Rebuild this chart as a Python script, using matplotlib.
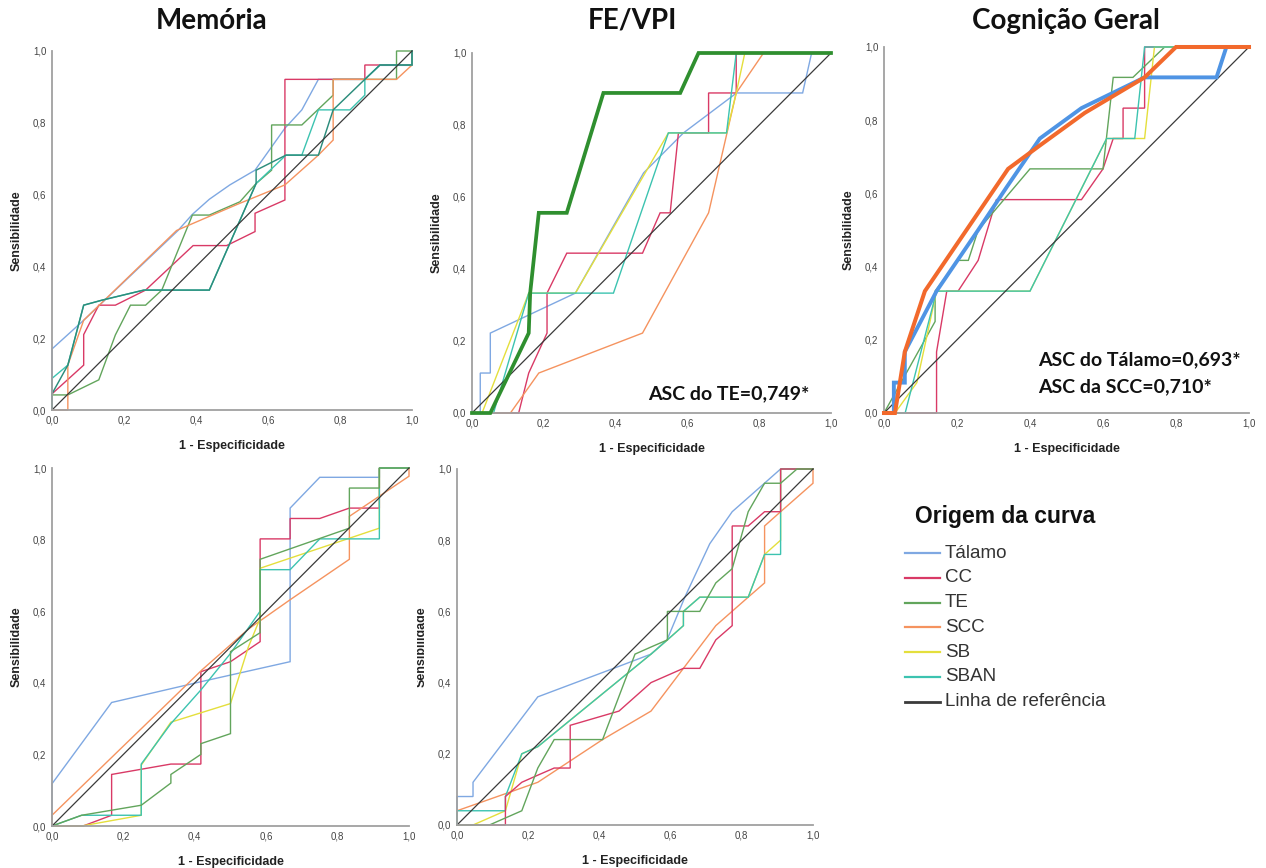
import matplotlib
matplotlib.use("Agg")
import matplotlib.pyplot as plt
from matplotlib.transforms import Bbox, TransformedBbox

W, H = 1266, 868

TICKS = [0.0, 0.2, 0.4, 0.6, 0.8, 1.0]
TICK_LABELS = ["0,0", "0,2", "0,4", "0,6", "0,8", "1,0"]

SERIES = ["Tálamo", "CC", "TE", "SCC", "SB", "SBAN"]
REF_LABEL = "Linha de referência"
REF_LINE = [(0, 0), (1, 1)]

# ── Memória ───────────────────────────────────────────────────────────────────
MEM_TALAMO = [(0, 0), (0, 0.17), (0.088, 0.25), (0.35, 0.50), (0.39, 0.545), (0.437, 0.587),
              (0.494, 0.627), (0.564, 0.668), (0.647, 0.785), (0.694, 0.836), (0.74, 0.921),
              (0.869, 0.921), (0.91, 0.96), (1, 0.96), (1, 1)]
MEM_CC = [(0, 0), (0, 0.045), (0.088, 0.125), (0.088, 0.21), (0.13, 0.292), (0.176, 0.292),
          (0.26, 0.334), (0.392, 0.458), (0.485, 0.458), (0.564, 0.497), (0.564, 0.548),
          (0.647, 0.585), (0.647, 0.921), (0.869, 0.921), (0.869, 0.961), (1, 0.961), (1, 1)]
MEM_TE = [(0, 0), (0, 0.042), (0.044, 0.042), (0.13, 0.084), (0.176, 0.209), (0.218, 0.292),
          (0.26, 0.292), (0.305, 0.334), (0.39, 0.543), (0.437, 0.543), (0.522, 0.58),
          (0.567, 0.631), (0.61, 0.668), (0.61, 0.794), (0.694, 0.794), (0.781, 0.877),
          (0.781, 0.921), (0.957, 0.921), (0.957, 1), (1, 1)]
MEM_SCC = [(0, 0), (0.044, 0), (0.044, 0.125), (0.088, 0.25), (0.346, 0.50), (0.45, 0.545),
           (0.52, 0.575), (0.647, 0.627), (0.74, 0.71), (0.781, 0.752), (0.781, 0.921),
           (0.957, 0.921), (1, 0.961), (1, 1)]
MEM_SB = [(0, 0), (0, 0.045), (0.044, 0.125), (0.088, 0.292), (0.139, 0.306), (0.255, 0.334),
          (0.437, 0.334), (0.567, 0.631), (0.567, 0.668), (0.65, 0.71), (0.74, 0.71),
          (0.781, 0.836), (0.869, 0.921), (0.911, 0.961), (1, 0.961), (1, 1)]
MEM_SBAN = [(0, 0), (0, 0.088), (0.044, 0.125), (0.088, 0.292), (0.139, 0.306), (0.255, 0.334),
            (0.437, 0.334), (0.567, 0.631), (0.65, 0.71), (0.694, 0.71), (0.74, 0.836),
            (0.828, 0.836), (0.869, 0.877), (0.869, 0.921), (0.911, 0.961), (1, 0.961), (1, 1)]

# ── FE/VPI ────────────────────────────────────────────────────────────────────
FE_TALAMO = [(0, 0), (0.023, 0), (0.023, 0.111), (0.051, 0.111), (0.051, 0.222), (0.288, 0.333),
             (0.478, 0.667), (0.589, 0.778), (0.737, 0.889), (0.921, 0.889), (0.946, 1), (1, 1)]
FE_CC = [(0, 0), (0.13, 0), (0.158, 0.111), (0.209, 0.222), (0.209, 0.333), (0.264, 0.444),
         (0.475, 0.444), (0.524, 0.556), (0.552, 0.556), (0.575, 0.778), (0.659, 0.778),
         (0.659, 0.889), (0.736, 0.889), (0.736, 1), (1, 1)]
FE_TE = [(0, 0), (0.051, 0), (0.158, 0.222), (0.162, 0.333), (0.186, 0.556), (0.264, 0.556),
         (0.366, 0.889), (0.58, 0.889), (0.631, 1), (1, 1)]
FE_SCC = [(0, 0), (0.107, 0), (0.186, 0.111), (0.475, 0.222), (0.659, 0.556), (0.736, 0.889),
          (0.812, 1), (1, 1)]
FE_SB = [(0, 0), (0.028, 0), (0.158, 0.333), (0.288, 0.333), (0.547, 0.778), (0.709, 0.778),
         (0.736, 0.889), (0.76, 1), (1, 1)]
FE_SBAN = [(0, 0), (0.06, 0), (0.158, 0.333), (0.394, 0.333), (0.547, 0.778), (0.709, 0.778),
           (0.736, 1), (1, 1)]

# ── Cognição Geral ────────────────────────────────────────────────────────────
COG_TALAMO = [(0, 0), (0.027, 0), (0.027, 0.083), (0.057, 0.083), (0.057, 0.167), (0.144, 0.333),
              (0.258, 0.5), (0.336, 0.617), (0.427, 0.75), (0.541, 0.833), (0.714, 0.917),
              (0.911, 0.917), (0.938, 1), (1, 1)]
COG_CC = [(0, 0), (0.144, 0), (0.144, 0.167), (0.172, 0.333), (0.203, 0.333), (0.258, 0.417),
          (0.308, 0.583), (0.541, 0.583), (0.6, 0.667), (0.628, 0.75), (0.655, 0.75),
          (0.655, 0.833), (0.714, 0.833), (0.714, 1), (1, 1)]
COG_TE = [(0, 0), (0.14, 0.25), (0.14, 0.333), (0.203, 0.417), (0.231, 0.417), (0.258, 0.5),
          (0.4, 0.667), (0.6, 0.667), (0.628, 0.917), (0.682, 0.917), (0.769, 1), (1, 1)]
COG_SCC = [(0, 0), (0.03, 0), (0.057, 0.167), (0.112, 0.333), (0.34, 0.667), (0.427, 0.731),
           (0.55, 0.82), (0.714, 0.917), (0.8, 1), (1, 1)]
COG_SB = [(0, 0), (0.03, 0), (0.09, 0.083), (0.144, 0.333), (0.4, 0.333), (0.61, 0.75),
          (0.714, 0.75), (0.741, 1), (1, 1)]
COG_SBAN = [(0, 0), (0.058, 0), (0.144, 0.333), (0.4, 0.333), (0.61, 0.75), (0.687, 0.75),
            (0.714, 1), (1, 1)]

# ── bottom left (untitled) ────────────────────────────────────────────────────
BL_TALAMO = [(0, 0), (0, 0.118), (0.167, 0.345), (0.417, 0.403), (0.667, 0.459), (0.667, 0.888),
             (0.75, 0.974), (0.917, 0.974), (0.917, 1), (1, 1)]
BL_CC = [(0, 0), (0.087, 0), (0.167, 0.03), (0.167, 0.144), (0.333, 0.173), (0.417, 0.173),
         (0.417, 0.431), (0.5, 0.459), (0.583, 0.515), (0.583, 0.802), (0.667, 0.802),
         (0.667, 0.859), (0.75, 0.859), (0.833, 0.888), (0.917, 0.888), (0.917, 1), (1, 1)]
BL_TE = [(0, 0), (0.083, 0.03), (0.25, 0.058), (0.333, 0.12), (0.333, 0.144), (0.417, 0.2),
         (0.417, 0.23), (0.5, 0.258), (0.5, 0.487), (0.583, 0.54), (0.583, 0.745),
         (0.833, 0.832), (0.833, 0.944), (0.917, 0.944), (0.917, 1), (1, 1)]
BL_SCC = [(0, 0), (0, 0.03), (0.42, 0.436), (0.55, 0.55), (0.667, 0.632), (0.833, 0.745),
          (0.833, 0.865), (1, 0.977), (1, 1)]
BL_SB = [(0, 0), (0.083, 0), (0.25, 0.03), (0.25, 0.17), (0.333, 0.29), (0.5, 0.342),
         (0.55, 0.5), (0.583, 0.58), (0.583, 0.72), (0.917, 0.832), (0.917, 1), (1, 1)]
BL_SBAN = [(0, 0), (0.083, 0.03), (0.25, 0.03), (0.25, 0.173), (0.333, 0.286), (0.417, 0.38),
           (0.5, 0.482), (0.583, 0.6), (0.583, 0.716), (0.667, 0.716), (0.75, 0.802),
           (0.917, 0.802), (0.917, 1), (1, 1)]

# ── bottom middle (untitled) ──────────────────────────────────────────────────
BM_TALAMO = [(0, 0), (0, 0.08), (0.045, 0.08), (0.045, 0.12), (0.227, 0.36), (0.44, 0.44),
             (0.545, 0.48), (0.59, 0.52), (0.64, 0.64), (0.71, 0.79), (0.773, 0.88),
             (0.909, 1), (1, 1)]
BM_CC = [(0, 0), (0.136, 0), (0.136, 0.08), (0.182, 0.12), (0.227, 0.14), (0.273, 0.16),
         (0.318, 0.16), (0.318, 0.28), (0.455, 0.32), (0.545, 0.4), (0.636, 0.44),
         (0.682, 0.44), (0.727, 0.52), (0.773, 0.56), (0.773, 0.84), (0.818, 0.84),
         (0.864, 0.88), (0.909, 0.88), (0.909, 1), (1, 1)]
BM_TE = [(0, 0), (0.091, 0), (0.182, 0.04), (0.227, 0.16), (0.273, 0.24), (0.409, 0.24),
         (0.5, 0.48), (0.545, 0.5), (0.591, 0.52), (0.591, 0.6), (0.682, 0.6), (0.727, 0.68),
         (0.773, 0.72), (0.818, 0.88), (0.864, 0.96), (0.909, 0.96), (0.955, 1), (1, 1)]
BM_SCC = [(0, 0), (0, 0.04), (0.227, 0.12), (0.318, 0.18), (0.409, 0.24), (0.545, 0.32),
          (0.636, 0.44), (0.727, 0.56), (0.818, 0.64), (0.864, 0.68), (0.864, 0.84),
          (0.909, 0.88), (1, 0.96), (1, 1)]
BM_SB = [(0, 0), (0.045, 0), (0.136, 0.04), (0.182, 0.2), (0.227, 0.22), (0.545, 0.48),
         (0.591, 0.52), (0.636, 0.56), (0.636, 0.6), (0.682, 0.64), (0.818, 0.64),
         (0.864, 0.76), (0.909, 0.8), (0.909, 1), (1, 1)]
BM_SBAN = [(0, 0), (0, 0.04), (0.136, 0.04), (0.136, 0.08), (0.182, 0.2), (0.227, 0.22),
           (0.545, 0.48), (0.591, 0.52), (0.636, 0.56), (0.636, 0.6), (0.682, 0.64),
           (0.818, 0.64), (0.864, 0.76), (0.909, 0.76), (0.909, 1), (1, 1)]

COLORS = {
    "Tálamo": "#7fa8e2",
    "CC": "#d93a66",
    "TE": "#62a55c",
    "SCC": "#f5935f",
    "SB": "#e4df3c",
    "SBAN": "#3cc3b0",
    REF_LABEL: "#3a3a3a",
}

SANS = "Liberation Sans"
HEAD = "Lato"


def px(x, y):
    """pixel (from top-left) -> figure fraction"""
    return x / W, 1 - y / H


def draw_panel(fig, box, curves, styles, title=None, title_x=None, notes=(), ylabel_clip=None):
    x0, y0, x1, y1 = box
    ax = fig.add_axes([x0 / W, 1 - y1 / H, (x1 - x0) / W, (y1 - y0) / H])
    ax.set_xlim(0, 1)
    ax.set_ylim(0, 1)
    for s in ("top", "right"):
        ax.spines[s].set_visible(False)
    for s in ("left", "bottom"):
        ax.spines[s].set_color("#a0a0a0")
        ax.spines[s].set_linewidth(1.3)
    ax.set_xticks(TICKS)
    ax.set_yticks(TICKS)
    ax.set_xticklabels(TICK_LABELS)
    ax.set_yticklabels(TICK_LABELS)
    ax.tick_params(length=0, pad=4, labelsize=7, labelcolor="#444444")
    for lab in ax.get_xticklabels() + ax.get_yticklabels():
        lab.set_fontfamily(SANS)

    # thin curves first, thick ones on top
    order = sorted(curves, key=lambda c: styles.get(c[0], {}).get("lw", 1.0))
    for name, pts in order:
        st = styles.get(name, {})
        xs = [p[0] for p in pts]
        ys = [p[1] for p in pts]
        ax.plot(xs, ys, color=st.get("color", COLORS[name]), lw=st.get("lw", 1.0),
                clip_on=False, solid_joinstyle="miter", zorder=st.get("z", 2))
    ax.plot([p[0] for p in REF_LINE], [p[1] for p in REF_LINE],
            color=COLORS[REF_LABEL], lw=0.9, zorder=2.5, clip_on=False)

    cx = (x0 + x1) / 2
    fig.text(*px(cx, y1 + 36), "1 - Especificidade", ha="center", va="center",
             fontsize=9, fontweight="bold", family=SANS, color="#222222")
    t = fig.text(*px(x0 - 35, (y0 + y1) / 2), "Sensibilidade", ha="center", va="center",
                 rotation=90, fontsize=9, fontweight="bold", family=SANS, color="#222222")
    if ylabel_clip is not None:
        bb = Bbox.from_extents(ylabel_clip[0] / W, 0, ylabel_clip[1] / W, 1)
        t.set_clip_box(TransformedBbox(bb, fig.transFigure))
        t.set_clip_on(True)
    if title:
        fig.text(*px(title_x, 21), title, ha="center", va="center",
                 fontsize=20, fontweight="bold", family=HEAD, color="#111111")
    for (tx, ty, txt) in notes:
        fig.text(*px(tx, ty), txt, ha="left", va="center", fontsize=14,
                 fontweight="bold", family=HEAD, color="#111111")
    return ax


def draw_legend(fig):
    fig.text(*px(915, 517), "Origem da curva", ha="left", va="center", fontsize=16.5,
             fontweight="bold", family=SANS, color="#111111")
    names = SERIES + [REF_LABEL]
    y = 553
    for name in names:
        lx0, ly = px(905, y)
        lx1, _ = px(940, y)
        fig.add_artist(plt.Line2D([lx0, lx1], [ly, ly], color=COLORS[name],
                                  lw=2.0 if name == REF_LABEL else 1.6))
        fig.text(*px(945, y), name, ha="left", va="center", fontsize=13.5,
                 family=SANS, color="#333333")
        y += 24.8


if __name__ == "__main__":
    fig = plt.figure(figsize=(W / 100, H / 100), dpi=100)
    fig.patch.set_facecolor("white")

    draw_panel(
        fig, (52, 51, 412, 410),
        [("Tálamo", MEM_TALAMO), ("CC", MEM_CC), ("TE", MEM_TE), ("SCC", MEM_SCC),
         ("SBAN", MEM_SBAN), ("SB", MEM_SB)],
        {"SB": {"color": "#2c8d7c", "lw": 1.05}},
        title="Memória", title_x=212,
    )
    draw_panel(
        fig, (472, 53, 831, 413),
        [("Tálamo", FE_TALAMO), ("CC", FE_CC), ("SCC", FE_SCC), ("SB", FE_SB),
         ("SBAN", FE_SBAN), ("TE", FE_TE)],
        {"TE": {"color": "#2f8f2f", "lw": 2.7, "z": 3}},
        title="FE/VPI", title_x=632,
        notes=[(648, 394, "ASC do TE=0,749*")],
    )
    draw_panel(
        fig, (884, 47, 1249, 413),
        [("CC", COG_CC), ("TE", COG_TE), ("SB", COG_SB), ("SBAN", COG_SBAN),
         ("Tálamo", COG_TALAMO), ("SCC", COG_SCC)],
        {"Tálamo": {"color": "#4f94e4", "lw": 2.8, "z": 3},
         "SCC": {"color": "#f2692c", "lw": 2.9, "z": 3.1}},
        title="Cognição Geral", title_x=1066,
        notes=[(1038, 360, "ASC do Tálamo=0,693*"), (1038, 387, "ASC da SCC=0,710*")],
    )
    draw_panel(
        fig, (52, 468, 409, 826),
        [("Tálamo", BL_TALAMO), ("CC", BL_CC), ("SCC", BL_SCC), ("SB", BL_SB),
         ("SBAN", BL_SBAN), ("TE", BL_TE)],
        {},
    )
    draw_panel(
        fig, (457, 469, 813, 825),
        [("Tálamo", BM_TALAMO), ("SCC", BM_SCC), ("SB", BM_SB), ("SBAN", BM_SBAN),
         ("CC", BM_CC), ("TE", BM_TE)],
        {},
        ylabel_clip=(417, 425),
    )
    draw_legend(fig)

    fig.savefig("out.png", dpi=100)
